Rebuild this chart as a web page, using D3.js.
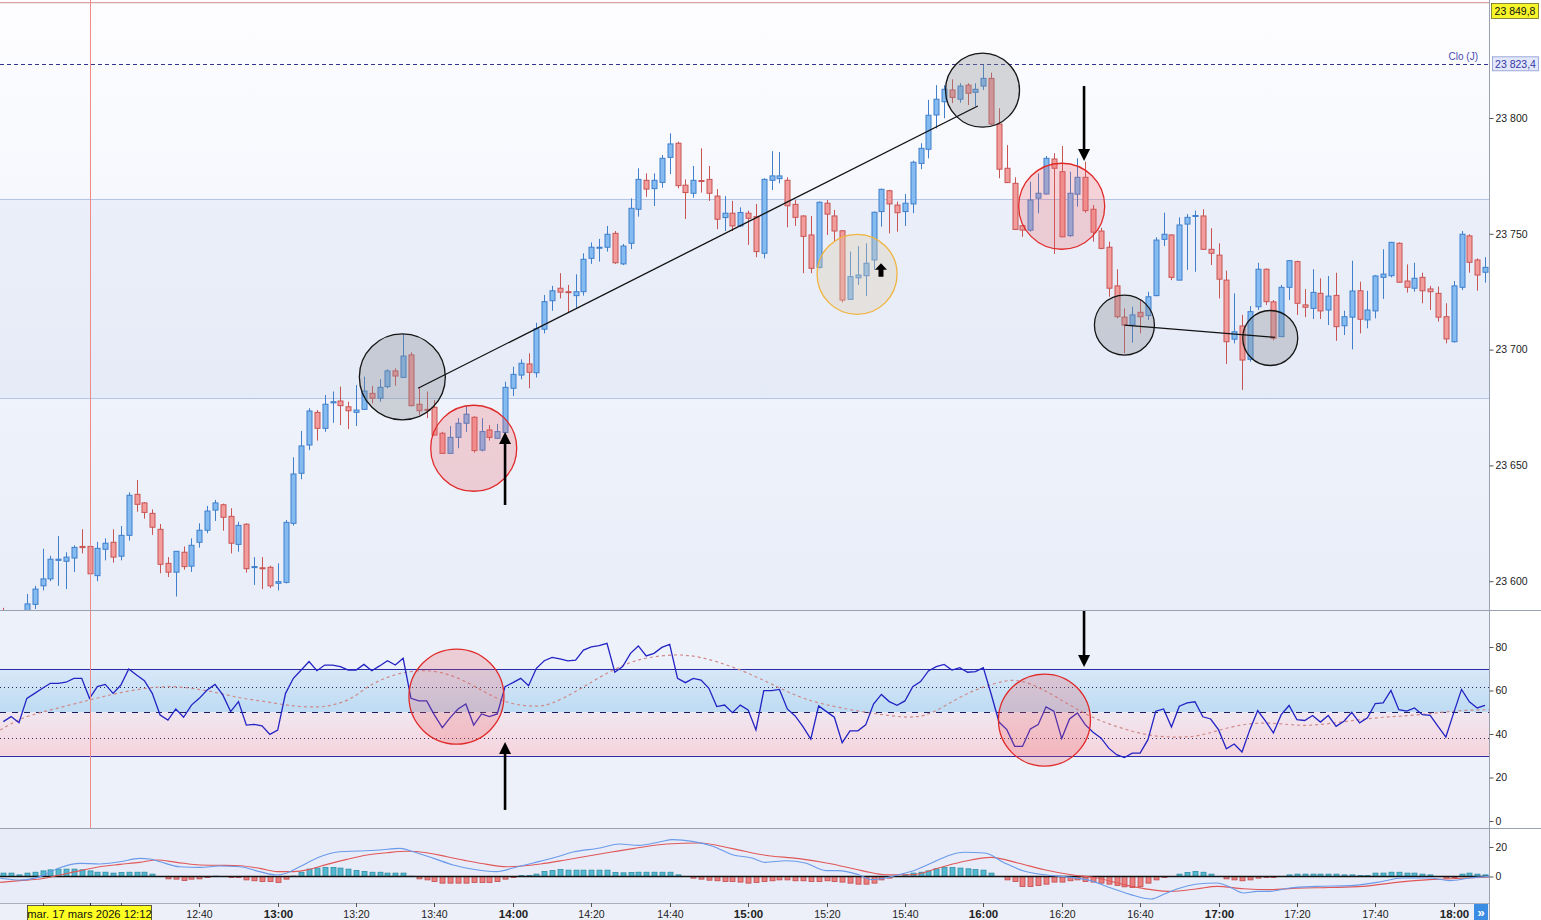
<!DOCTYPE html>
<html>
<head>
<meta charset="utf-8">
<script src="https://cdn.jsdelivr.net/npm/d3@7"></script>
<style>
html, body { margin: 0; padding: 0; background: #fff; overflow: hidden; }
svg { display: block; font-family: "Liberation Sans", Arial, sans-serif; }
</style>
</head>
<body>
<svg id="chart" width="1541" height="920"></svg>
<script>
// 2-minute candles, 17 March 2026, from 11:50
var START = new Date(2026, 2, 17, 11, 50),
    STEP_MIN = 2;

var candleOpen = [
  23585, 23582, 23578, 23584, 23590, 23598, 23601, 23609, 23608.6, 23610,
  23615, 23615, 23602.4, 23613.8, 23616.8, 23610.8, 23619.8, 23637.5, 23633.8, 23629.3,
  23622.4, 23607.7, 23603.9, 23612.5, 23606.5, 23616.8, 23622, 23630.7, 23633, 23628,
  23615.9, 23624.6, 23606, 23605.8, 23606, 23599.1, 23599.5, 23625, 23646.6, 23658.8,
  23672.9, 23666, 23677, 23677.8, 23675.3, 23672.9, 23674.2, 23681.1, 23679, 23684,
  23690.8, 23688, 23697.7, 23676.4, 23674.2, 23675.1, 23663.9, 23655.2, 23662.1, 23668.2,
  23670.8, 23656.6, 23665.3, 23661.7, 23664.2, 23683.3, 23689, 23693.8, 23690, 23708.8,
  23721.1, 23726.5, 23725, 23723.3, 23725, 23739.4, 23743.8, 23744.2, 23750.2, 23737,
  23745.9, 23760.6, 23773.1, 23769.5, 23772.2, 23783, 23789.1, 23771, 23767.5, 23773,
  23773.5, 23766.3, 23757, 23758.9, 23753.4, 23758.9, 23757.4, 23741.6, 23773.1, 23773.8,
  23773.1, 23762.7, 23757.7, 23749.5, 23735.5, 23763.2, 23757.7, 23751.3, 23721.7, 23731,
  23731.9, 23738.7, 23759.6, 23768.6, 23762.4, 23759.6, 23762.9, 23780.4, 23786.5, 23801.3,
  23807, 23812.1, 23808.1, 23814.2, 23811.1, 23813.8, 23817.1, 23797.4, 23778.3, 23771.8,
  23753.5, 23751.6, 23765.4, 23767.2, 23782.3, 23776.8, 23749.2, 23767.1, 23774.4, 23760.6,
  23751.2, 23744.2, 23727.5, 23714, 23710.6, 23716.1, 23714.7, 23723.3, 23747.6, 23749.5,
  23730, 23754.2, 23757.5, 23757.7, 23743.3, 23740.8, 23730, 23704.5, 23710.2, 23695.8,
  23718.5, 23734.7, 23720.6, 23705.6, 23726.9, 23738, 23719.3, 23717.8, 23724.3, 23717.1,
  23723.4, 23710.3, 23714, 23725.4, 23712.8, 23716.7, 23731.2, 23731.9, 23745.9, 23729.6,
  23726.5, 23731.2, 23726.2, 23724.3, 23714.2, 23703.4, 23726.9, 23749.1, 23738.7, 23733.4
];
var candleHigh = [
  23588.5, 23584, 23586, 23594.5, 23598, 23614, 23611, 23619.5, 23612.5, 23615.5,
  23622.4, 23619.5, 23617, 23618.5, 23622.4, 23623.8, 23638.4, 23643.7, 23634.2, 23631,
  23624.7, 23610.4, 23613, 23615, 23618.5, 23625, 23632.5, 23635.1, 23633.5, 23631.5,
  23625.7, 23625, 23610.4, 23610.4, 23606.7, 23607.7, 23626.4, 23653.5, 23664.9, 23674.7,
  23673.9, 23680.4, 23681.9, 23684, 23677.5, 23684.7, 23688.3, 23684.3, 23687.2, 23691.5,
  23691.9, 23706.7, 23698.8, 23683.3, 23681.9, 23678.2, 23664.5, 23667, 23670.4, 23675.6,
  23671.2, 23670.4, 23667.4, 23667.9, 23686.1, 23692.6, 23695.8, 23698.4, 23711.6, 23723.6,
  23727.5, 23733, 23727.9, 23732.5, 23741.6, 23746.3, 23747.8, 23753.4, 23751.2, 23745.6,
  23765.3, 23778.3, 23776.1, 23776.1, 23784, 23793.4, 23789.8, 23773.5, 23779.3, 23786.9,
  23779.3, 23769.3, 23766.3, 23764.2, 23761.4, 23760, 23762.9, 23774, 23785.7, 23785.3,
  23774.4, 23764.6, 23758, 23757.7, 23764, 23764.6, 23760.3, 23751.6, 23742.3, 23744.7,
  23745.9, 23759.6, 23769.5, 23769, 23763.9, 23767.2, 23781.6, 23789.1, 23807.8, 23814.2,
  23814.2, 23816.7, 23815, 23815, 23815, 23822.9, 23819.6, 23804.2, 23788.3, 23774.4,
  23754, 23772.5, 23776.1, 23783.6, 23784.8, 23787.9, 23776.8, 23782.6, 23781.1, 23762.4,
  23752.6, 23746.6, 23734.7, 23717.8, 23718.5, 23721.4, 23725, 23748.5, 23759.1, 23749.8,
  23757.1, 23758.5, 23760, 23760.6, 23752.4, 23745.9, 23734.1, 23724.3, 23715, 23718.8,
  23737.5, 23735, 23721.4, 23727.9, 23738.6, 23738.4, 23726.1, 23734.7, 23730.8, 23731.8,
  23733.2, 23716.8, 23738.4, 23729.3, 23725.4, 23732.2, 23743.3, 23746.5, 23746.3, 23736.8,
  23737.5, 23733.2, 23727.5, 23727.2, 23720, 23729.6, 23751.2, 23749.8, 23739.4, 23739.9
];
var candleLow = [
  23578, 23574, 23575, 23582, 23588, 23596, 23600, 23598, 23596.6, 23604,
  23612, 23603, 23600, 23609, 23608, 23609, 23617.5, 23630, 23627, 23620,
  23603.4, 23601.8, 23593.4, 23605, 23604, 23614.5, 23620.7, 23626, 23621.8, 23612,
  23612.7, 23603.7, 23598.4, 23596.6, 23597, 23596, 23599, 23624, 23644, 23656.6,
  23660.7, 23664.5, 23668.4, 23667.4, 23665.7, 23667, 23673.9, 23676.8, 23677.5, 23683.3,
  23684.4, 23688, 23675.5, 23671.8, 23670.4, 23663, 23655, 23655, 23657.4, 23664.5,
  23655.5, 23656, 23660.7, 23661.5, 23664, 23680, 23687.2, 23683.3, 23688, 23707,
  23716.8, 23722.1, 23716, 23718, 23723.3, 23737, 23738, 23742.3, 23737, 23736.5,
  23743.4, 23757.4, 23766, 23762, 23769.9, 23775.8, 23769.6, 23756.4, 23765.6, 23767.8,
  23764.2, 23752, 23751.2, 23751.2, 23753, 23745.2, 23739.9, 23739.4, 23768.9, 23771.8,
  23752.8, 23753.4, 23733, 23733, 23735, 23749.5, 23746.6, 23720.4, 23721.5, 23727.9,
  23723.1, 23734.4, 23753.1, 23750.2, 23750.9, 23753.4, 23758.9, 23777.9, 23782.6, 23795.5,
  23799.9, 23806.4, 23806.6, 23805.6, 23805.2, 23812.1, 23797, 23774, 23772, 23751.7,
  23748.7, 23750.9, 23758.9, 23767, 23741.3, 23748.5, 23748.7, 23761.7, 23759.1, 23746.6,
  23743.3, 23722.8, 23713.5, 23698.4, 23703, 23707, 23712.8, 23723, 23744.7, 23730,
  23730, 23734.4, 23733.6, 23743, 23736.5, 23722.1, 23693.8, 23702.7, 23682.6, 23694.8,
  23717.1, 23719.3, 23704, 23705.5, 23721.4, 23715, 23714, 23713.2, 23713.2, 23710.6,
  23703.8, 23706.3, 23700.1, 23707, 23709.2, 23713.5, 23721.9, 23731.2, 23729, 23724.6,
  23725, 23720, 23717.1, 23712.1, 23702.7, 23703, 23725.7, 23733.2, 23725.4, 23728.9
];
var candleClose = [
  23582, 23578, 23584, 23590.2, 23596.6, 23601, 23609.5, 23609.5, 23610.4, 23614.6,
  23614.5, 23603.2, 23614.2, 23616.4, 23610.4, 23619.8, 23637.1, 23633.2, 23629.7, 23623.3,
  23607.3, 23603.9, 23612.9, 23606.3, 23615.5, 23622, 23630.3, 23633.8, 23627.6, 23616.4,
  23624.1, 23605.4, 23606.3, 23605.5, 23598, 23599.8, 23625.4, 23646.3, 23658.4, 23673.5,
  23666, 23676.4, 23677.5, 23675.8, 23673.6, 23673.9, 23682.1, 23679, 23683.7, 23690.8,
  23688.6, 23697.2, 23675.8, 23673.6, 23673.9, 23663.1, 23655.2, 23662.1, 23668.2, 23672.1,
  23656.4, 23664.6, 23662.1, 23664.6, 23683.7, 23689.3, 23694.1, 23690.2, 23709, 23720.7,
  23725.4, 23724.8, 23724.6, 23725, 23739, 23744.2, 23744.2, 23749.8, 23737.5, 23744.7,
  23761, 23773.5, 23769.3, 23773.1, 23782.6, 23788.8, 23770.8, 23767.8, 23773.1, 23772.6,
  23767.5, 23756.3, 23758.9, 23753.4, 23759.2, 23756.7, 23742.3, 23773.5, 23775, 23775,
  23762.1, 23757.1, 23748.9, 23735.1, 23763.6, 23758.5, 23751.2, 23721.4, 23731.5, 23732.2,
  23737.3, 23759.3, 23769.2, 23762.9, 23759.1, 23763.2, 23780.9, 23786.9, 23801.2, 23808.1,
  23812.4, 23808.9, 23813.8, 23810.7, 23812.4, 23817.1, 23797.4, 23777.9, 23772.1, 23751.9,
  23751.6, 23764.6, 23767.5, 23782.6, 23778.3, 23748.7, 23767.5, 23774.4, 23760, 23750.7,
  23743.7, 23726.5, 23714.2, 23710.6, 23715, 23714.2, 23722.8, 23747.3, 23749.8, 23731.2,
  23753.8, 23757.1, 23757.9, 23743.3, 23741.6, 23730.4, 23703.4, 23707.7, 23695.5, 23716.4,
  23734.7, 23720.7, 23704.9, 23726.9, 23738.4, 23720, 23718.3, 23724.7, 23716.7, 23723.1,
  23709.9, 23714.2, 23725.3, 23713.1, 23717.1, 23731.8, 23732.6, 23746.3, 23729.1, 23726.9,
  23730.8, 23725.4, 23725, 23714, 23704.6, 23727.5, 23749.8, 23737.7, 23732.2, 23735.5
];

// RSI, one value per candle
var rsiValues = [
  45.7, 48, 45.2, 56.4, 58.7, 61, 63.3, 63.3, 63.8, 65.6,
  65.6, 56.4, 61.8, 62.8, 58.7, 62.5, 69.9, 67.1, 64.5, 58.7,
  48.7, 46.4, 51.5, 47.7, 53.3, 56.4, 60.2, 62.8, 58, 50.3,
  54.9, 44.1, 44.4, 43.8, 39.8, 41.8, 58.7, 65.6, 69.4, 73.3,
  69.1, 71.7, 71.7, 71, 69.4, 69.4, 72, 69.1, 71.3, 73.7,
  71.7, 74.8, 56.4, 55.2, 55.2, 48.7, 42.9, 47.5, 51.5, 53.8,
  44.1, 49.2, 48, 49.2, 61.8, 63.6, 65.6, 62.2, 70.2, 73.7,
  75.2, 74.5, 73.6, 74, 78.6, 80.1, 80.6, 81.7, 68.4, 71,
  77.1, 80.5, 75.9, 77.1, 79.8, 81.2, 65.6, 63.6, 65.6, 64.8,
  61, 52.6, 53.3, 49.8, 53.3, 51.1, 41.9, 59.9, 59.9, 60.5,
  51.5, 48.3, 43.4, 37.7, 52.9, 50.3, 47.7, 36, 41.4, 41.5,
  44.2, 53.8, 58.2, 54.9, 53.2, 55.2, 61.8, 64.1, 69, 71,
  72, 69.4, 70.5, 68.4, 68.7, 70.5, 58.4, 45.5, 42, 34.3,
  34.3, 42.3, 44.3, 52.5, 50.5, 37.9, 46.9, 49.7, 44.3, 40.8,
  38.2, 33.5, 30.5, 29.2, 31.2, 31.2, 37.4, 50.5, 51.5, 43.2,
  52.8, 54.3, 54.8, 47.9, 46.9, 42, 33.2, 35.4, 31.7, 42,
  50.8, 45.9, 40.5, 48.9, 53.1, 46.6, 46.2, 48.5, 45.5, 48.5,
  43.5, 45.9, 50, 45.1, 47.4, 54, 54.3, 60, 51.2, 50.5,
  52, 48.9, 48.6, 43.5, 38.6, 49.7, 60.5, 54.8, 52, 53.2
];

// RSI moving average, read at candle positions
var rsiMaIndex = [-0.4, 2.1, 5.1, 11.1, 14.9, 20, 23.4, 26.8, 30.2, 33.6, 37, 40.4, 42.1, 44.3, 46.4,
  48.5, 51.1, 54.5, 57.9, 61.3, 63.4, 65.5, 68, 69.7, 73.1, 76.1, 79.5, 82, 85.9, 88.9, 93.1, 97.4,
  100.8, 104.2, 109.3, 114.4, 116.5, 118.6, 122, 125, 128, 129.7, 132.4, 135.9, 138.9, 142.4, 146,
  149.1, 152.2, 155.2, 158.8, 162.3, 165.8, 169.3, 172.9, 176.4, 179.9, 183.5, 186.1, 189.6];
var rsiMaValues = [41.8, 47.2, 50.3, 55.7, 59.2, 62.2, 61.5, 59.5, 56.4, 54.9, 52.6, 52.3, 53.3, 55.7, 61.8,
  65.6, 68.6, 69.7, 66.4, 59.5, 55.5, 53.3, 52.6, 53.3, 59.5, 66.4, 72.5, 75.2, 76.8, 75.6, 71, 64.1,
  57.9, 53.8, 50.3, 47.7, 47.7, 49.5, 57.2, 61.8, 64.8, 64.8, 61.2, 53.5, 47.4, 42.8, 39.2,
  38.5, 38.6, 42, 45.1, 45.1, 43.5, 44.8, 46.6, 47.9, 48.5, 50, 50.9, 51.2];

// MACD line and signal, read at candle positions
var macdIndex = [-0.4, 2.1, 4.7, 7.2, 9.8, 12.3, 14.9, 17.4, 18.7, 20, 22.5, 25.1, 27.6, 30.2, 32.7, 34.9,
  36.1, 37.8, 40.4, 42.9, 45.5, 48, 50.6, 52.3, 54.9, 57.4, 59.9, 62.9, 65.5, 67.6, 70.1, 72.7, 76.1,
  78.6, 81.1, 83.7, 85.4, 87.9, 90.5, 93, 95.5, 97.2, 99.8, 102.3, 104.9, 106.5, 109.1, 110.8, 112.5,
  114.2, 115.9, 118.4, 120.9, 122.6, 125.2, 127.7, 130.3, 132.8, 136.2, 138.7, 141.3, 143.8, 146.4,
  148.1, 149.7, 152.3, 154.8, 156.5, 158.2, 159.9, 161.6, 164.1, 167.5, 171.8, 175.2, 178.5, 181.9,
  184.5, 187, 189.6];
var macdValues = [-1.2, -2.4, -0.1, 6, 8.9, 8.5, 10, 12.3, 11.9, 10, 6.6, 6.2, 7.1, 6.6, 3.3, 1,
  2.2, 6.6, 13.4, 16.8, 17.3, 18, 19.1, 16.8, 12.3, 7.8, 4.9, 3.3, 6.5, 9.2, 12.5, 16.6, 19.3,
  22, 21.1, 23.4, 25, 23.8, 20.5, 14.8, 12.5, 9.6, 10.7, 9.2, 4, 4, 1.2, -2.1, -1,
  1.2, 3.5, 9.2, 14.8, 16.4, 15.9, 9.2, 3.5, 1.2, -0.6, -2.8, -7.8, -12.3, -15.3,
  -11.9, -8.5, -5.1, -4.4, -7.3, -11.2, -10.1, -10.1, -7.8, -6.7, -6.2, -4, -1, -1,
  -2.8, -1, 0.1];
var signalIndex = [-0.4, 2.1, 4.7, 7.2, 9.8, 12.3, 14.9, 17.4, 19.6, 22.1, 25.1, 27.6, 30.2, 32.7, 34.9,
  37, 39.1, 41.3, 43.8, 46.4, 48.9, 51.5, 54, 56.6, 59.1, 61.7, 64.2, 68.5, 71.9, 76.1, 80.3, 84.6,
  88.8, 93, 97.2, 101.5, 105.7, 109.9, 112.5, 115.9, 119.3, 122.6, 126, 129.4, 132.8, 136.2, 139.5,
  142.9, 146.4, 148.9, 152.3, 154.8, 158.2, 161.6, 165, 169.2, 173.4, 177.7, 181.9, 185.3, 189.6];
var signalValues = [-4, -2.8, -1.7, 1, 4, 6.6, 8.2, 9.6, 11.2, 9.6, 7.8, 7.6, 7.3, 5.5, 3.3,
  3.3, 4.9, 8.2, 11.6, 14.6, 16.1, 17.1, 16.1, 13.4, 10.7, 8.2, 6.6, 8.5, 11.4, 15.3, 18.9, 22,
  22.7, 18.9, 14.4, 12.1, 8.5, 3.5, 1.2, 1.2, 5.8, 10.3, 13, 9.2, 4.6, 1.2, -1,
  -5.5, -8.9, -10.1, -8.3, -6.7, -8.3, -8.9, -7.9, -7.5, -6.7, -4, -2.1, -1.4, -0.3];

// MACD histogram, one bar per candle
var histValues = [
  2.3, 2.3, 1.1, 2.3, 2.9, 3.8, 4.5, 5, 5, 5,
  4.5, 3.8, 2.9, 2.9, 2.3, 2.7, 2.9, 2.9, 2.9, 1.6,
  0, -1.6, -1.8, -2.7, -1.8, -1.6, -0.7, 0.2, 0, -0.7,
  -0.7, -2.3, -2.9, -3.4, -3.4, -4.1, -1.8, 0.3, 2.9, 5,
  5.7, 6.1, 6.1, 5.7, 5, 4.1, 3.4, 2.9, 2.9, 2.3,
  2.3, 2.3, 0.2, -1.6, -2.3, -3.4, -4.5, -4.5, -4.5, -4.5,
  -4.1, -4.1, -4.1, -3.4, -1.8, -0.7, 0.6, 0.7, 1.6, 3.4,
  4.1, 4.7, 4.3, 4.3, 4.3, 4.3, 4.3, 4.3, 2.7, 2.5,
  2.7, 2.9, 2.9, 2.9, 2.9, 2.9, 1.1, 0, -1.1, -1.8,
  -2.5, -2.9, -3.4, -3.4, -3.8, -4.5, -4.1, -3.4, -2.9, -2.3,
  -2.3, -2.9, -2.9, -3.4, -3.4, -2.9, -3.4, -3.8, -4.5, -5.2,
  -5.2, -4.5, -2.3, -1.1, 0, 1.1, 2.3, 2.9, 3.8, 5.2,
  6.1, 6.1, 5.7, 5.2, 4.7, 4.3, 2.3, 0, -2.3, -3.4,
  -6.8, -6.8, -6.1, -5.2, -3.8, -3.8, -2.9, -2.3, -3.4, -3.8,
  -4.5, -5.2, -6.1, -7, -7.5, -6.8, -4.5, -2.3, -0.7, 0,
  1.6, 2.7, 3.4, 2.9, 1.6, 0, -1.6, -2.3, -2.9, -2.3,
  -1.1, -0.7, -0.7, 0, 1.1, 1.6, 1.6, 1.6, 1.6, 1.6,
  1.6, 1.1, 1.1, 0.7, 0.7, 2.3, 2.3, 2.9, 2.9, 2.3,
  2.3, 1.6, 1.1, 0, -1.1, -0.7, 1.6, 2.3, 1.6, 1.1
];

var priceTicks = [23600, 23650, 23700, 23750, 23800];
var rsiTicks = [0, 20, 40, 60, 80];
var macdTicks = [0, 20];
var dayHigh = 23849.8;
var dayClose = 23823.4;
var bandPrices = [23765, 23679];
var rsiGuides = [30, 38.2, 50, 61.8, 70];
var cursorTime = new Date(2026, 2, 17, 12, 12);
var cursorLabel = "mar. 17 mars 2026 12:12";

// drawings placed on the chart (candle index, price / rsi value)
var priceCircles = [
  { i: 50.9, price: 23688.2, r: 43, kind: "gray" },
  { i: 60, price: 23657.4, r: 43, kind: "red" },
  { i: 108.9, price: 23732.5, r: 40, kind: "orange" },
  { i: 124.9, price: 23812, r: 37, kind: "gray" },
  { i: 135, price: 23761.9, r: 43, kind: "red" },
  { i: 143, price: 23710.6, r: 30, kind: "gray" },
  { i: 161.6, price: 23705, r: 27.5, kind: "gray" }
];
var priceLines = [
  { i1: 52.9, p1: 23683.3, i2: 124.3, p2: 23805.2 },
  { i1: 143, p1: 23710.6, i2: 162.2, p2: 23705.3 }
];
var priceArrows = [
  { i: 64, from: 23632.9, to: 23664.4 },
  { i: 137.85, from: 23813.8, to: 23781.4 }
];
var rsiCircles = [
  { i: 57.8, value: 57.2, r: 47.5 },
  { i: 132.8, value: 46.4, r: 46 }
];
var rsiArrows = [
  { i: 64, from: 5.1, to: 36.3 },
  { i: 137.85, from: 96.6, to: 70.8 }
];
var blockArrow = { i: 111.95, price: 23734.3 };

var
  W = 1541, H = 920,
  PLOT_RIGHT = 1489,
  MAIN_TOP = 0, MAIN_BOTTOM = 610,
  RSI_TOP = 611, RSI_BOTTOM = 828,
  MACD_TOP = 829, MACD_BOTTOM = 903,
  BAR_STEP = 7.84, FIRST_X = 3.3,
  BODY_W = 5,
  UP_FILL = "#84bbf0", UP_LINE = "#3f7fcc",
  DOWN_FILL = "#f29c9c", DOWN_LINE = "#c85454",
  DATE_BOX = [27.5, 151.5];

var svg = d3.select("#chart");
var defs = svg.append("defs");
var n = candleClose.length;

function timeAt(i){ return new Date(START.getTime() + i * STEP_MIN * 60000); }

var x = d3.scaleTime()
  .domain([timeAt(0), timeAt(n - 1)])
  .range([FIRST_X, FIRST_X + (n - 1) * BAR_STEP]);
var yPrice = d3.scaleLinear().domain([23600, 23800]).range([581.2, 118]);
var yRsi = d3.scaleLinear().domain([0, 80]).range([821, 647]);
var yMacd = d3.scaleLinear().domain([0, 20]).range([876.5, 847]);

function xi(i){ return x(timeAt(i)); }

var frLocale = d3.formatLocale({ decimal: ",", thousands: " ", grouping: [3], currency: ["", " €"] });
var fmtPrice = frLocale.format(",d");
var fmtPrice1 = frLocale.format(",.1f");

function vGrad(id, stops){
  var g = defs.append("linearGradient").attr("id", id)
    .attr("x1", 0).attr("x2", 0).attr("y1", 0).attr("y2", 1);
  stops.forEach(function(s){ g.append("stop").attr("offset", s[0]).attr("stop-color", s[1]); });
}
vGrad("mainBg", [[0, "#fdfdff"], [1, "#e8edf8"]]);
vGrad("rsiHi", [[0, "#d8e8f8"], [1, "#bddbf3"]]);
vGrad("rsiLo", [[0, "#f0e7f0"], [1, "#f6d3dc"]]);

function clip(id, y0, y1){
  defs.append("clipPath").attr("id", id).append("rect")
    .attr("x", 0).attr("y", y0).attr("width", PLOT_RIGHT).attr("height", y1 - y0);
}
clip("clipMain", MAIN_TOP, MAIN_BOTTOM);
clip("clipRsi", RSI_TOP, RSI_BOTTOM);
clip("clipMacd", MACD_TOP, MACD_BOTTOM);

// backgrounds
svg.append("rect").attr("width", W).attr("height", H).attr("fill", "#ffffff");
svg.append("rect").attr("x", 0).attr("y", MAIN_TOP).attr("width", PLOT_RIGHT).attr("height", MAIN_BOTTOM - MAIN_TOP)
  .attr("fill", "url(#mainBg)");
svg.append("rect").attr("x", 0).attr("y", RSI_TOP).attr("width", PLOT_RIGHT).attr("height", RSI_BOTTOM - RSI_TOP)
  .attr("fill", "#edf1fa");
svg.append("rect").attr("x", 0).attr("y", MACD_TOP).attr("width", PLOT_RIGHT).attr("height", MACD_BOTTOM - MACD_TOP)
  .attr("fill", "#e8ecf8");
svg.append("rect").attr("x", 0).attr("y", MACD_BOTTOM).attr("width", PLOT_RIGHT).attr("height", H - MACD_BOTTOM)
  .attr("fill", "#edf0f8");

// ---------- main panel ----------
var main = svg.append("g").attr("clip-path", "url(#clipMain)");

main.append("rect")
  .attr("x", 0).attr("width", PLOT_RIGHT)
  .attr("y", yPrice(bandPrices[0])).attr("height", yPrice(bandPrices[1]) - yPrice(bandPrices[0]))
  .attr("fill", "#c4d2ee").attr("opacity", 0.22);
bandPrices.forEach(function(p){
  main.append("line").attr("x1", 0).attr("x2", PLOT_RIGHT)
    .attr("y1", Math.round(yPrice(p)) + 0.5).attr("y2", Math.round(yPrice(p)) + 0.5)
    .attr("stroke", "#b3c6e8").attr("stroke-width", 1);
});

main.append("line").attr("x1", 0).attr("x2", PLOT_RIGHT)
  .attr("y1", yPrice(dayHigh)).attr("y2", yPrice(dayHigh))
  .attr("stroke", "#dca0a8").attr("stroke-width", 1.2);
main.append("line").attr("x1", 0).attr("x2", PLOT_RIGHT)
  .attr("y1", Math.round(yPrice(dayClose)) + 0.5).attr("y2", Math.round(yPrice(dayClose)) + 0.5)
  .attr("stroke", "#35358f").attr("stroke-width", 1).attr("stroke-dasharray", "4,3");
svg.append("text").attr("x", 1478).attr("y", 60).attr("text-anchor", "end")
  .attr("font-size", 10).attr("fill", "#4848b0").text("Clo (J)");

var candleIdx = d3.range(n);
var candles = main.append("g").selectAll("g").data(candleIdx).join("g");
candles.append("line")
  .attr("x1", function(i){ return Math.round(xi(i)) + 0.5; })
  .attr("x2", function(i){ return Math.round(xi(i)) + 0.5; })
  .attr("y1", function(i){ return yPrice(candleHigh[i]); })
  .attr("y2", function(i){ return yPrice(candleLow[i]); })
  .attr("stroke", function(i){ return candleClose[i] >= candleOpen[i] ? UP_LINE : DOWN_LINE; })
  .attr("stroke-width", 1);
candles.append("rect")
  .attr("x", function(i){ return Math.round(xi(i)) + 0.5 - BODY_W / 2; })
  .attr("width", BODY_W)
  .attr("y", function(i){ return yPrice(Math.max(candleOpen[i], candleClose[i])); })
  .attr("height", function(i){
    return Math.max(1, Math.abs(yPrice(candleOpen[i]) - yPrice(candleClose[i])));
  })
  .attr("fill", function(i){ return candleClose[i] >= candleOpen[i] ? UP_FILL : DOWN_FILL; })
  .attr("stroke", function(i){ return candleClose[i] >= candleOpen[i] ? UP_LINE : DOWN_LINE; })
  .attr("stroke-width", 1);

var circleStyle = {
  gray: { fill: "#8a8d94", opacity: 0.34, stroke: "#151515" },
  red: { fill: "#f05a60", opacity: 0.24, stroke: "#e02a2a" },
  orange: { fill: "#dccbb0", opacity: 0.35, stroke: "#f0b440" }
};
priceCircles.forEach(function(c){
  var s = circleStyle[c.kind];
  main.append("circle").attr("cx", xi(c.i)).attr("cy", yPrice(c.price)).attr("r", c.r)
    .attr("fill", s.fill).attr("fill-opacity", s.opacity)
    .attr("stroke", s.stroke).attr("stroke-width", 1.3);
});
priceLines.forEach(function(l){
  main.append("line")
    .attr("x1", xi(l.i1)).attr("y1", yPrice(l.p1))
    .attr("x2", xi(l.i2)).attr("y2", yPrice(l.p2))
    .attr("stroke", "#111").attr("stroke-width", 1.3);
});

function arrow(g, ax, yFrom, yTo){
  var dir = yTo < yFrom ? -1 : 1, head = 12, half = 6;
  g.append("line").attr("x1", ax).attr("x2", ax)
    .attr("y1", yFrom).attr("y2", yTo - dir * (head - 2))
    .attr("stroke", "#000").attr("stroke-width", 2.6);
  g.append("path")
    .attr("d", "M" + ax + "," + yTo + "L" + (ax - half) + "," + (yTo - dir * head) +
      "L" + (ax + half) + "," + (yTo - dir * head) + "Z")
    .attr("fill", "#000");
}
priceArrows.forEach(function(a){ arrow(main, xi(a.i), yPrice(a.from), yPrice(a.to)); });

(function(){
  var bx = xi(blockArrow.i), by = yPrice(blockArrow.price);
  main.append("path")
    .attr("d", "M" + bx + "," + (by - 7) + "L" + (bx + 6) + "," + (by - 0.5) + "L" + (bx + 2.5) + "," + (by - 0.5) +
      "L" + (bx + 2.5) + "," + (by + 6.5) + "L" + (bx - 2.5) + "," + (by + 6.5) + "L" + (bx - 2.5) + "," + (by - 0.5) +
      "L" + (bx - 6) + "," + (by - 0.5) + "Z")
    .attr("fill", "#000");
})();

// ---------- RSI panel ----------
var rsi = svg.append("g").attr("clip-path", "url(#clipRsi)");
rsi.append("rect").attr("x", 0).attr("width", PLOT_RIGHT)
  .attr("y", yRsi(70)).attr("height", yRsi(50) - yRsi(70)).attr("fill", "url(#rsiHi)");
rsi.append("rect").attr("x", 0).attr("width", PLOT_RIGHT)
  .attr("y", yRsi(50)).attr("height", yRsi(30) - yRsi(50)).attr("fill", "url(#rsiLo)");

rsiGuides.forEach(function(v){
  var yy = Math.round(yRsi(v)) + 0.5;
  var ln = rsi.append("line").attr("x1", 0).attr("x2", PLOT_RIGHT).attr("y1", yy).attr("y2", yy);
  if (v === 30 || v === 70) ln.attr("stroke", "#2c2ca6").attr("stroke-width", 1);
  else if (v === 50) ln.attr("stroke", "#1c1c60").attr("stroke-width", 1).attr("stroke-dasharray", "6,6");
  else ln.attr("stroke", "#2a2a5a").attr("stroke-width", 1).attr("stroke-dasharray", "1,3");
});

rsi.append("path")
  .datum(d3.range(rsiMaIndex.length))
  .attr("d", d3.line()
    .x(function(j){ return xi(rsiMaIndex[j]); })
    .y(function(j){ return yRsi(rsiMaValues[j]); })
    .curve(d3.curveBasis))
  .attr("fill", "none").attr("stroke", "#d08a8a").attr("stroke-width", 1.2).attr("stroke-dasharray", "3,3");

rsi.append("path")
  .datum(d3.range(n))
  .attr("d", d3.line()
    .x(function(i){ return xi(i); })
    .y(function(i){ return yRsi(rsiValues[i]); }))
  .attr("fill", "none").attr("stroke", "#2323c4").attr("stroke-width", 1.3);

rsiCircles.forEach(function(c){
  rsi.append("circle").attr("cx", xi(c.i)).attr("cy", yRsi(c.value)).attr("r", c.r)
    .attr("fill", circleStyle.red.fill).attr("fill-opacity", circleStyle.red.opacity)
    .attr("stroke", circleStyle.red.stroke).attr("stroke-width", 1.3);
});
rsiArrows.forEach(function(a){ arrow(rsi, xi(a.i), yRsi(a.from), yRsi(a.to)); });

// ---------- MACD panel ----------
var macd = svg.append("g").attr("clip-path", "url(#clipMacd)");
macd.append("g").selectAll("rect").data(d3.range(n)).join("rect")
  .attr("x", function(i){ return Math.round(xi(i)) + 0.5 - 2.5; })
  .attr("width", 5)
  .attr("y", function(i){ return Math.min(yMacd(histValues[i]), yMacd(0)); })
  .attr("height", function(i){ return Math.abs(yMacd(histValues[i]) - yMacd(0)); })
  .attr("fill", function(i){ return histValues[i] >= 0 ? "#52b9d0" : "#ec8080"; })
  .attr("stroke", function(i){ return histValues[i] >= 0 ? "#2f8ea6" : "#c04a4a"; })
  .attr("stroke-width", 0.8);

macd.append("line").attr("x1", 0).attr("x2", PLOT_RIGHT)
  .attr("y1", yMacd(0)).attr("y2", yMacd(0)).attr("stroke", "#111").attr("stroke-width", 1.4);

macd.append("path")
  .datum(d3.range(signalIndex.length))
  .attr("d", d3.line()
    .x(function(j){ return xi(signalIndex[j]); })
    .y(function(j){ return yMacd(signalValues[j]); })
    .curve(d3.curveMonotoneX))
  .attr("fill", "none").attr("stroke", "#e05858").attr("stroke-width", 1.1);
macd.append("path")
  .datum(d3.range(macdIndex.length))
  .attr("d", d3.line()
    .x(function(j){ return xi(macdIndex[j]); })
    .y(function(j){ return yMacd(macdValues[j]); })
    .curve(d3.curveMonotoneX))
  .attr("fill", "none").attr("stroke", "#6a9aea").attr("stroke-width", 1.1);

// crosshair
svg.append("line")
  .attr("x1", Math.round(x(cursorTime)) + 0.5).attr("x2", Math.round(x(cursorTime)) + 0.5)
  .attr("y1", 0).attr("y2", RSI_BOTTOM)
  .attr("stroke", "#f08a8a").attr("stroke-width", 1);

// ---------- frames ----------
[MAIN_BOTTOM, RSI_BOTTOM].forEach(function(yy){
  svg.append("line").attr("x1", 0).attr("x2", W).attr("y1", yy + 0.5).attr("y2", yy + 0.5)
    .attr("stroke", "#9aa2b2").attr("stroke-width", 1);
});
svg.append("line").attr("x1", 0).attr("x2", PLOT_RIGHT).attr("y1", MACD_BOTTOM + 0.5).attr("y2", MACD_BOTTOM + 0.5)
  .attr("stroke", "#a8afbf").attr("stroke-width", 1);
svg.append("line").attr("x1", PLOT_RIGHT + 0.5).attr("x2", PLOT_RIGHT + 0.5).attr("y1", 0).attr("y2", H)
  .attr("stroke", "#9aa2b2").attr("stroke-width", 1);

// ---------- right axes ----------
function rightAxis(scale, ticks, fmt){
  var g = svg.append("g").attr("transform", "translate(" + (PLOT_RIGHT + 0.5) + ",0)");
  g.call(d3.axisRight(scale).tickValues(ticks).tickFormat(fmt).tickSize(4).tickPadding(2));
  g.select(".domain").remove();
  g.selectAll("line").attr("stroke", "#555");
  g.selectAll("text").attr("font-family", "Liberation Sans, Arial, sans-serif")
    .attr("font-size", 10.5).attr("fill", "#222");
}
rightAxis(yPrice, priceTicks, fmtPrice);
rightAxis(yRsi, rsiTicks, d3.format("d"));
rightAxis(yMacd, macdTicks, d3.format("d"));

svg.append("rect").attr("x", 1491.5).attr("y", 3.5).attr("width", 47).attr("height", 15)
  .attr("fill", "#f6f52a").attr("stroke", "#6b6b20").attr("stroke-width", 0.8);
svg.append("text").attr("x", 1515).attr("y", 15).attr("text-anchor", "middle")
  .attr("font-size", 10.5).attr("fill", "#111").text(fmtPrice1(dayHigh));
svg.append("rect").attr("x", 1492.5).attr("y", yPrice(dayClose) - 7).attr("width", 46).attr("height", 14)
  .attr("fill", "#e2e8f9").attr("stroke", "#8a98d4").attr("stroke-width", 0.8);
svg.append("text").attr("x", 1515.5).attr("y", yPrice(dayClose) + 4).attr("text-anchor", "middle")
  .attr("font-size", 10.5).attr("fill", "#3636a8").text(fmtPrice1(dayClose));

// ---------- time axis ----------
var timeTicks = x.ticks(d3.timeMinute.every(20));
var fmtTime = d3.timeFormat("%H:%M");
var tg = svg.append("g");
timeTicks.forEach(function(t){
  var tx = Math.round(x(t)) + 0.5;
  tg.append("line").attr("x1", tx).attr("x2", tx).attr("y1", MACD_BOTTOM).attr("y2", MACD_BOTTOM + 4)
    .attr("stroke", "#555");
  // labels under the cursor date box are hidden, as on the screen
  if (tx > DATE_BOX[0] - 12 && tx < DATE_BOX[1] + 12) return;
  var full = t.getMinutes() === 0;
  tg.append("text").attr("x", tx).attr("y", 918).attr("text-anchor", "middle")
    .attr("font-size", full ? 11.5 : 10.5).attr("font-weight", full ? "bold" : "normal")
    .attr("fill", "#222").text(fmtTime(t));
});

var cx = Math.round(x(cursorTime)) + 0.5;
svg.append("line").attr("x1", cx).attr("x2", cx).attr("y1", MACD_BOTTOM).attr("y2", MACD_BOTTOM + 4).attr("stroke", "#222");
svg.append("rect").attr("x", DATE_BOX[0]).attr("y", 905.5).attr("width", DATE_BOX[1] - DATE_BOX[0]).attr("height", 15)
  .attr("fill", "#ffff22").attr("stroke", "#333").attr("stroke-width", 0.8);
svg.append("text").attr("x", (DATE_BOX[0] + DATE_BOX[1]) / 2).attr("y", 918).attr("text-anchor", "middle")
  .attr("font-size", 11.2).attr("fill", "#111").text(cursorLabel);

svg.append("rect").attr("x", 1474).attr("y", 904).attr("width", 14).attr("height", 16).attr("fill", "#3b8de4");
svg.append("text").attr("x", 1481).attr("y", 917).attr("text-anchor", "middle")
  .attr("font-size", 13).attr("font-weight", "bold").attr("fill", "#fff").text("»");
</script>
</body>
</html>
